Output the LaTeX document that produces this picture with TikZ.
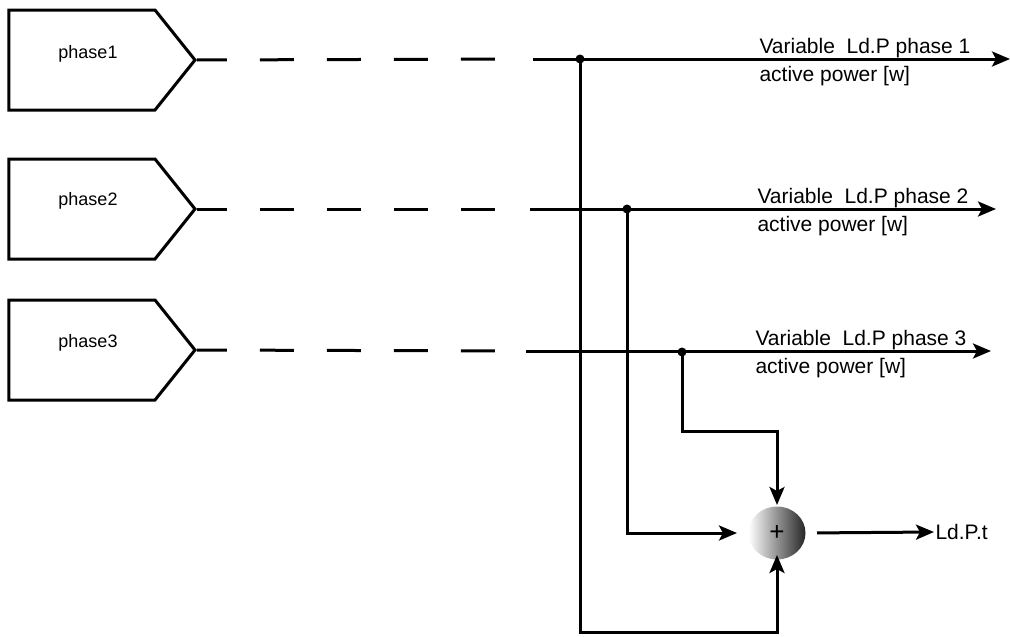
\documentclass[tikz,border=0pt]{standalone}
\usepackage{fontspec}
\setmainfont{Liberation Sans}
\usetikzlibrary{arrows.meta,positioning,calc,shapes.geometric,shapes.symbols}

\begin{document}
\begin{tikzpicture}[x=1pt,y=-1pt,line width=3pt,
    phasebox/.style={draw,signal,signal to=east,signal pointer angle=102.7,
        minimum width=186pt,minimum height=100pt,inner sep=0pt},
    sumnode/.style={ellipse,minimum width=57pt,minimum height=53pt,inner sep=0pt,
        left color=white,right color=black!85,font=\fontsize{26}{28}\selectfont},
    link/.style={-{Stealth[length=18pt,width=15pt,inset=4pt]}},
    dashlink/.style={dash pattern=on 34pt off 33pt,dash phase=4pt},
    dot/.style={circle,fill,inner sep=0pt,minimum size=9pt},
    lbl/.style={font=\fontsize{21}{23}\selectfont,anchor=base west,inner sep=0pt}]
    \useasboundingbox (0,0) rectangle (1010,637);

    % input blocks
    \node[phasebox] (ph1) at (82,60) {};
    \node[phasebox] (ph2) at (82,209) {};
    \node[phasebox] (ph3) at (82,350) {};
    \foreach \i/\dy in {1/-6,2/-8,3/-7}
        \node[font=\fontsize{18}{20}\selectfont] (t\i) at ($(ph\i.center)+(6,\dy)$) {phase\i};

    % summing point
    \node[sumnode] (sum) at (777,533) {+};
    \node[lbl,anchor=west] (out) at (934,532) {Ld.P.t};

    % signal lines
    \coordinate (s1) at (533,59);  \coordinate (e1) at (1010,59);
    \coordinate (s2) at (530,209); \coordinate (e2) at (996,209);
    \coordinate (s3) at (526,351); \coordinate (e3) at (991,351);
    \coordinate (d1) at (520,59);  \coordinate (d2) at (520,209);  \coordinate (d3) at (515,351);
    \foreach \i in {1,2,3} {
        \draw[dashlink] (ph\i.east) -- (d\i);
        \draw[link] (s\i) -- (e\i);
    }

    % branch points
    \node[dot] (j1) at (580,59) {};
    \node[dot] (j2) at (627,209) {};
    \node[dot] (j3) at (682,352) {};
    \coordinate (low) at (0,632);
    \coordinate (high) at (0,431);

    \draw[link] (j1.center) -- (j1 |- low) -| ([yshift=6pt]sum.south);
    \draw[link,shorten >=10pt] (j2.center) |- (sum.west);
    \draw[link] (j3.center) -- (j3 |- high) -| (sum.north);
    \draw[link,shorten <=10pt] (sum.east) -- (out.west);

    % labels
    \node[lbl] (v1) at (758,53) {Variable\ \ Ld.P phase 1};
    \node[lbl] (a1) at (758,81) {active power [w]};
    \node[lbl] (v2) at (756,203) {Variable\ \ Ld.P phase 2};
    \node[lbl] (a2) at (756,231) {active power [w]};
    \node[lbl] (v3) at (754,345) {Variable\ \ Ld.P phase 3};
    \node[lbl] (a3) at (754,373) {active power [w]};
\end{tikzpicture}
\end{document}
